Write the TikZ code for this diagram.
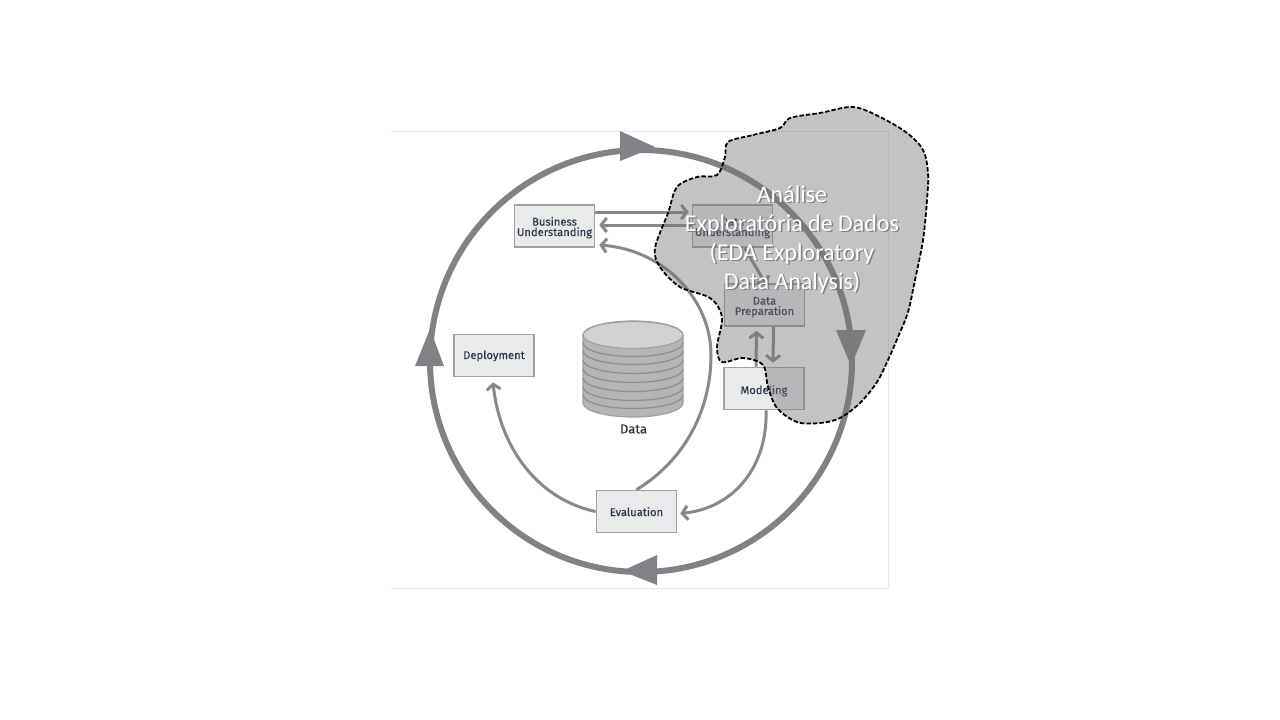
\documentclass[tikz,border=0pt]{standalone}
\usepackage{fontspec}
\setmainfont{Fira Sans}
\newfontfamily\phasefont[FakeBold=0.35]{Fira Sans}
\newfontfamily\labelfont{Carlito}
\usetikzlibrary{arrows.meta,shapes.geometric}
\definecolor{ringgray}{HTML}{808285}
\definecolor{linkgray}{HTML}{88898B}
\definecolor{boxfill}{HTML}{E9EAEC}
\definecolor{boxline}{HTML}{A0A1A3}
\definecolor{inktext}{HTML}{33364A}
\definecolor{blobfill}{RGB}{118,111,113}
\definecolor{cylfill}{HTML}{B4B5B7}
\definecolor{cyltop}{HTML}{D1D2D4}
\definecolor{cylline}{HTML}{8E8F91}
\newcommand{\phasetext}[2]{\smash{\raisebox{#1}{\shortstack[c]{#2}}}}
\tikzset{
  x=1pt,y=-1pt,
  phase/.style={draw=boxline,fill=boxfill,line width=1.6pt,minimum width=80pt,minimum height=42pt,inner sep=0pt,align=center,font=\fontsize{11.2}{11}\selectfont\phasefont,text=inktext},
  link/.style={draw=linkgray,line width=3pt,-{Straight Barb[length=5.5pt,width=14pt,line width=3pt]}},
  ringhead/.style={fill=ringgray,draw=none},
  edalabel/.style={font=\fontsize{24}{29}\selectfont\labelfont,align=center,inner sep=0pt},
}
\begin{document}
\begin{tikzpicture}
\useasboundingbox (0,0) rectangle (1280,720);
\fill[white] (0,0) rectangle (1280,720);
\draw[draw=black!9,line width=.8pt] (391,131) -- (888,131) -- (888,588) -- (391,588);
% ring
\node[circle,draw=ringgray,line width=6pt,minimum size=422pt,inner sep=0pt] (ring) at (641,361) {};
\fill[ringhead] (655,147) -- (620,131) -- (620,161) -- cycle;
\fill[ringhead] (851,366) -- (836,330) -- (866,330) -- cycle;
\fill[ringhead] (622,571) -- (657,555) -- (657,585) -- cycle;
\fill[ringhead] (430,329) -- (415,366) -- (444,366) -- cycle;
% phases
\node[phase] (bu) at (554.5,226) {\phasetext{-10pt}{Business\\[-1.5pt]Understanding}};
\node[phase] (du) at (732.5,226) {\phasetext{-10pt}{Data\\[-1.5pt]Understanding}};
\node[phase] (dp) at (764.5,305) {\phasetext{-10pt}{Data\\[-1.5pt]Preparation}};
\node[phase] (mo) at (764,388.5) {\phasetext{-5.5pt}{Modeling}};
\node[phase] (de) at (494,355.5) {\phasetext{-3.5pt}{Deployment}};
\node[phase] (ev) at (636.5,511.5) {\phasetext{-4.5pt}{Evaluation}};
% data store
\fill[cylfill,draw=boxline,line width=1.2pt] (583,335) -- (583,403) arc[start angle=180,end angle=360,x radius=50,y radius=-14] -- (683,335) arc[start angle=0,end angle=180,x radius=50,y radius=-14] -- cycle;
\foreach \yy in {343,351,360,369,378,387,395}
  \draw[cylline,line width=1.3pt] (583,\yy) arc[start angle=180,end angle=360,x radius=50,y radius=-13.5];
\fill[cyltop,draw=boxline,line width=1.2pt] (633,335) ellipse[x radius=50,y radius=13.5];
\node[font=\fontsize{13}{14}\selectfont\phasefont,text=inktext,inner sep=0pt] (datalabel) at (633.5,429) {Data};
% links
\draw[link] ([yshift=14pt]bu.east) -- ([yshift=14pt,xshift=-3pt]du.west);
\draw[link] ([yshift=1pt]du.west) -- ([yshift=1pt,xshift=4pt]bu.east);
\draw[link] (ev.north) .. controls (685,460) and (711,410) .. (711,355) .. controls (711,300) and (665,250) .. ([yshift=-19pt,xshift=4pt]bu.east);
\draw[link] ([xshift=12pt]du.south) -- ([xshift=2pt,yshift=-2pt]dp.north);
\draw[link] ([xshift=9pt]dp.south) -- ([xshift=9pt,yshift=4pt]mo.north);
\draw[link] ([xshift=-8pt]mo.north) -- ([xshift=-8pt,yshift=-4pt]dp.south);
\draw[link] ([xshift=2pt]mo.south) .. controls (768,465) and (735,508) .. ([yshift=-2pt,xshift=3pt]ev.east);
\draw[link] (ev.west) .. controls (540,500) and (500,450) .. ([yshift=-5pt,xshift=-1pt]de.south);
% EDA region
\def\blobpts{(728,142)(753,135)(780,128)(790,118)(820,113)(853,107)(880,117)(907,133)(923,150)(928,173)(927,200)(923,240)(915,280)(908,312)(898,337)(888,360)(877,382)(860,403)(840,418)(820,423)(797,422)(777,408)(768,387)(763,365)(743,358)(722,362)(717,347)(722,317)(710,298)(680,287)(660,267)(655,248)(668,213)(677,187)(697,177)(717,175)(725,157)}
\path[fill=blobfill,fill opacity=.42] plot[smooth cycle,tension=.55] coordinates {\blobpts};
\draw[black,line width=1.8pt,dash pattern=on 4.5pt off 2pt] plot[smooth cycle,tension=.55] coordinates {\blobpts};
\node[edalabel,text=black!55,opacity=.8] (edashadow) at (793.5,241) {Análise\\Exploratória de Dados\\(EDA Exploratory\\Data Analysis)};
\node[edalabel,text=white] (eda) at (792,240) {Análise\\Exploratória de Dados\\(EDA Exploratory\\Data Analysis)};
\end{tikzpicture}
\end{document}
